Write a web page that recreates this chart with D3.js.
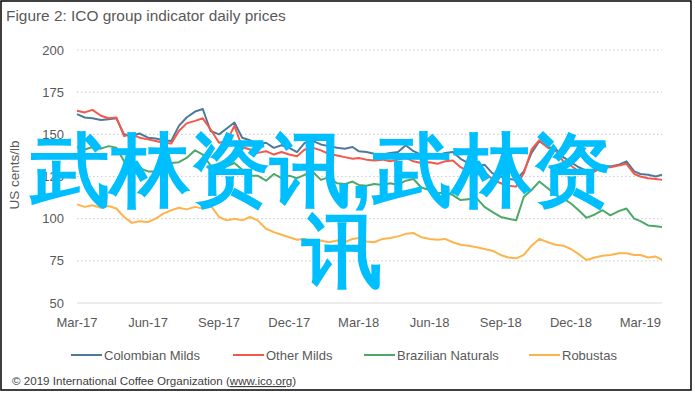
<!DOCTYPE html>
<html>
<head>
<meta charset="utf-8">
<script src="https://cdn.jsdelivr.net/npm/d3@7/dist/d3.min.js"></script>
<style>
  body { margin: 0; background: #fff; }
  svg { display: block; }
  text { font-family: "Liberation Sans", Arial, sans-serif; }
</style>
</head>
<body>
<svg id="chart" width="695" height="394"></svg>
<script>
// Sample dates (roughly every ten days)
const dates = [
  "2017-03-01","2017-03-11","2017-03-21","2017-04-01","2017-04-11","2017-04-21",
  "2017-05-01","2017-05-11","2017-05-21","2017-06-01","2017-06-11","2017-06-21",
  "2017-07-01","2017-07-11","2017-07-21","2017-08-01","2017-08-11","2017-08-21",
  "2017-09-01","2017-09-11","2017-09-21","2017-10-01","2017-10-11","2017-10-21",
  "2017-11-01","2017-11-11","2017-11-21","2017-12-01","2017-12-11","2017-12-21",
  "2018-01-01","2018-01-11","2018-01-21","2018-02-01","2018-02-11","2018-02-21",
  "2018-03-01","2018-03-11","2018-03-21","2018-04-01","2018-04-11","2018-04-21",
  "2018-05-01","2018-05-11","2018-05-21","2018-06-01","2018-06-11","2018-06-21",
  "2018-07-01","2018-07-11","2018-07-21","2018-08-01","2018-08-11","2018-08-21",
  "2018-09-01","2018-09-11","2018-09-21","2018-10-01","2018-10-11","2018-10-21",
  "2018-11-01","2018-11-11","2018-11-21","2018-12-01","2018-12-11","2018-12-21",
  "2019-01-01","2019-01-11","2019-01-21","2019-02-01","2019-02-11","2019-02-21",
  "2019-03-01","2019-03-11","2019-03-21","2019-03-29"
];

// US cents/lb
const colombianMilds = [
  162,160,159.5, 158.5,159,159.5, 150,149,150.5, 148,147.5,146.5,
  146,155,160, 163.5,165,152, 150,153.5,157, 148,146.5,144,
  145,142,143.5, 142,139.5,145, 146,144,143, 142,141.5,142.5,
  140,139.5,138.5, 138,139,139.5, 143.5,140,138, 138.5,137.5,139,
  139.5,135.5,133, 131,132,127, 125,123.5,123, 128,139,146,
  142.5,141.5,136.5, 133.5,130.5,128.5, 129,131.5,131, 132,134,128,
  126.5,126,125,126
];
const otherMilds = [
  164,163,164.5, 161,159.5,160, 149,150,148, 147,146,145,
  144.5,152,156.5, 158,159.5,153, 145,146,155, 142.5,141,139,
  140,138,139.5, 138,137,141, 142,140.5,138.5, 137.5,136.5,135.5,
  136,135,134.5, 135,134,135, 136,134,133, 133.5,132.5,134,
  134.5,130.5,128, 126,127.5,123.5, 121,119.5,119, 127,141,146.5,
  142,140.5,134, 131.5,128,127.5, 128,130.5,130.5, 131.5,132.5,126.5,
  125,124,123.5,123
];
const brazilianNaturals = [
  142.5,141,142.5, 141.5,143,142, 134,131,130, 128,128,131.5,
  133,133.5,136, 140.5,138,131.5, 131,131,133, 129,125.5,125.5,
  122.5,126.5,124, 125.5,124,126, 127.5,123,124.5, 121,120.5,122,
  120,119.5,120.5, 120,121,120, 122.5,123.5,118.5, 117,115,115.5,
  114,111,111.5, 112,107,104, 101,100,99, 113,117,122,
  118,114,112, 109,105,100.5, 102.5,105,102, 104.5,106,100,
  98.5,96,95.5,95
];
const robustas = [
  108.5,107,108, 106.5,107.5,106, 101,97.5,98.5, 98,100,103,
  105,106.5,105.5, 107,106,108, 101,99,100, 99,101,99,
  94,92,90.5, 89,87.5,88, 86.5,87,86, 87,86,88,
  88.5,86.5,86, 88,88.5,89.5, 91,91.5,89, 88,87.5,88,
  86,84.5,84, 83,82,81, 78.5,77,76.5, 78.5,84,88,
  86,84.5,84, 82,79,75.5, 77,78,78.5, 79.5,79.5,78.5,
  78.5,77,77.5,75.5
];

const seriesNames = ["Colombian Milds", "Other Milds", "Brazilian Naturals", "Robustas"];
const seriesColors = ["#4e7a9a", "#f4584a", "#4ea868", "#fdb44c"];
const yTicks = [50, 75, 100, 125, 150, 175, 200];
const xTickLabels = ["Mar-17","Jun-17","Sep-17","Dec-17","Mar-18","Jun-18","Sep-18","Dec-18","Mar-19"];
const xTickDates = ["2017-03-01","2017-06-01","2017-09-01","2017-12-01","2018-03-01","2018-06-01","2018-09-01","2018-12-01","2019-03-01"];

const parse = d3.timeParse("%Y-%m-%d");
const svg = d3.select("#chart");

svg.append("rect").attr("width", 695).attr("height", 394).attr("fill", "#fff");
// outer frame
svg.append("rect")
  .attr("x", 1).attr("y", 1).attr("width", 690).attr("height", 389)
  .attr("fill", "none").attr("stroke", "#000").attr("stroke-width", 1.5);

// title
svg.append("text")
  .attr("x", 6).attr("y", 21)
  .attr("font-size", 15.4).attr("fill", "#595959")
  .text("Figure 2: ICO group indicator daily prices");

const x = d3.scaleTime()
  .domain([parse("2017-03-01"), parse("2019-03-29")])
  .range([77, 662]);
const y = d3.scaleLinear().domain([50, 200]).range([303, 50]);

// gridlines
svg.append("g")
  .selectAll("line")
  .data(yTicks.filter(d => d > 50))
  .join("line")
  .attr("x1", 77).attr("x2", 662)
  .attr("y1", d => y(d)).attr("y2", d => y(d))
  .attr("stroke", "#d0d0d0").attr("stroke-width", 1.2)
  .attr("stroke-dasharray", "1.5,2.5");

// baseline
svg.append("line")
  .attr("x1", 77).attr("x2", 662)
  .attr("y1", y(50)).attr("y2", y(50))
  .attr("stroke", "#d9d9d9").attr("stroke-width", 1.2);

// y labels
svg.append("g")
  .selectAll("text")
  .data(yTicks)
  .join("text")
  .attr("x", 64).attr("y", d => y(d) + 4.5)
  .attr("text-anchor", "end")
  .attr("font-size", 13).attr("fill", "#595959")
  .text(d => d);

// y title
svg.append("text")
  .attr("transform", "translate(19,175) rotate(-90)")
  .attr("text-anchor", "middle")
  .attr("font-size", 13.5).attr("fill", "#595959")
  .text("US cents/lb");

// x labels
svg.append("g")
  .selectAll("text")
  .data(xTickDates)
  .join("text")
  .attr("x", d => x(parse(d)))
  .attr("y", 327)
  .attr("text-anchor", "middle")
  .attr("font-size", 13).attr("fill", "#595959")
  .text((d, i) => xTickLabels[i]);

// lines
const allSeries = [colombianMilds, otherMilds, brazilianNaturals, robustas];
const line = d3.line()
  .x((d, i) => x(parse(dates[i])))
  .y(d => y(d));

// draw orange, green first so blue/red sit on top
[3, 2, 0, 1].forEach(k => {
  svg.append("path")
    .datum(allSeries[k])
    .attr("d", line)
    .attr("fill", "none")
    .attr("stroke", seriesColors[k])
    .attr("stroke-width", 2)
    .attr("stroke-linejoin", "round");
});

// legend
const legendX = [71, 233, 364, 529];
const legend = svg.append("g");
seriesNames.forEach((name, i) => {
  legend.append("line")
    .attr("x1", legendX[i]).attr("x2", legendX[i] + 31)
    .attr("y1", 355).attr("y2", 355)
    .attr("stroke", seriesColors[i]).attr("stroke-width", 2);
  legend.append("text")
    .attr("x", legendX[i] + 33).attr("y", 359.5)
    .attr("font-size", 13).attr("fill", "#595959")
    .text(name);
});

// footer
const foot = svg.append("text")
  .attr("x", 12).attr("y", 385)
  .attr("font-size", 11.6).attr("fill", "#404040");
foot.append("tspan").text("\u00a9 2019 International Coffee Organization (");
foot.append("tspan").attr("text-decoration", "underline").text("www.ico.org");
foot.append("tspan").text(")");

// watermark overlay
const wm = svg.append("g")
  .attr("fill", "#00bfff")
  .style("font-family", "'Noto Sans CJK SC', sans-serif")
  .attr("font-size", 80)
  .attr("font-weight", "bold");
wm.append("text").attr("x", 30).attr("y", 198).text("武林资讯,武林资");
wm.append("text").attr("x", 302).attr("y", 279).text("讯");
</script>
</body>
</html>
